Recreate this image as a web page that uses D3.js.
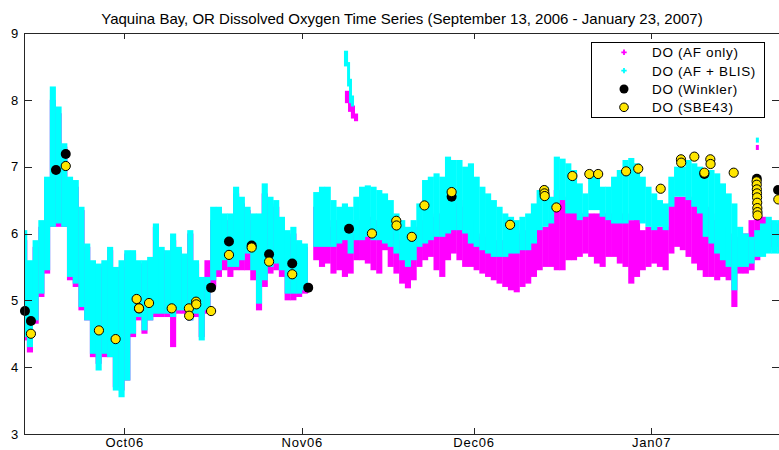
<!DOCTYPE html>
<html>
<head>
<meta charset="utf-8">
<style>
  body { margin: 0; background: #fff; }
  svg { display: block; font-family: "Liberation Sans", Arial, sans-serif; }
  .axis path, .axis line { stroke: #262626; stroke-width: 1; shape-rendering: crispEdges; }
  .axis text { font-size: 13px; letter-spacing: 0.8px; fill: #000; }
  .title { font-size: 15px; }
  .legend text { font-size: 13.5px; letter-spacing: 0.65px; }
</style>
</head>
<body>
<svg width="779" height="450"></svg>
<script src="https://cdn.jsdelivr.net/npm/d3@7"></script>
<script>
// ---- data (daily envelopes of the half-hourly sonde records, Sep 13 2006 .. Jan 23 2007) ----
var bandStartDay = "2006-09-13 00:00";

// DO (AF + BLIS), cyan
var blisLo = [4.45, 4.3, 4.7, 5.1, 5.45, 6.1, 6.15, 6.1, 5.35, 5.25,      // Sep 13-22
              4.9, 4.7, 4.2, 3.95, 4.2, 4.15, 3.65, 3.55, 3.8, 4.5,        // Sep 23-Oct 2
              4.75, 4.55, 4.7, 4.8, 4.8, 4.8, 4.75, 4.85, 4.85, 4.7,       // Oct 3-12
              4.8, 4.4, 4.85, 5.3, 5.45, 5.6, 5.5, 5.5, 5.6, 5.7,          // Oct 13-22
              5.45, 4.95, 5.3, 5.5, 5.55, 5.45, 5.1, 5.1, 5.1, 5.15,       // Oct 23-Nov 1
              null, 5.8, 5.8, 5.8, 5.8, 5.85, 5.9, 5.7, 5.9, 5.9,          // Nov 2-11
              5.95, 5.9, 5.9, 5.85, 5.8, 5.7, 5.6, 5.5, 5.6, 5.8,          // Nov 12-21
              5.85, 5.9, 5.95, 5.95, 6.0, 6.05, 6.05, 6.0, 5.85, 5.8,      // Nov 22-Dec 1
              5.75, 5.7, 5.65, 5.65, 5.65, 5.7, 5.7, 5.75, 5.75, 5.85,     // Dec 2-11
              6.05, 6.1, 6.15, 6.45, 6.5, 6.3, 6.3, 6.2, 6.25, 6.35,       // Dec 12-21
              6.35, 6.25, 6.2, 6.15, 6.15, 6.15, 6.2, 6.2, 6.15, 6.1,      // Dec 22-31
              6.05, 6.1, 6.05, 6.4, 6.55, 6.55, 6.5, 6.4, 6.3, 5.95,       // Jan 1-10
              5.85, 5.7, 5.6, 5.5, 5.15, 5.5, 5.5, 5.55, 5.65, 5.65,       // Jan 11-20
              5.7, 5.7, 5.7];                                              // Jan 21-23
var blisHi = [6.05, 5.6, 5.9, 6.2, 6.85, 8.2, 7.9, 7.35, 6.85, 6.8,
              6.4, 5.85, 5.6, 5.55, 5.6, 5.8, 5.5, 5.6, 5.75, 5.75,
              5.6, 5.6, 5.65, 6.15, 5.8, 5.75, 6.0, 5.8, 5.7, 6.05,
              5.6, 5.35, 5.35, 6.4, 6.4, 6.3, 6.3, 6.7, 6.55, 6.4,
              6.3, 6.3, 6.75, 6.55, 6.5, 6.25, 6.05, 6.1, 5.9, 5.85,
              null, 6.62, 6.7, 6.7, 6.5, 6.4, 6.45, 6.4, 6.55, 6.7,
              6.72, 6.7, 6.65, 6.6, 6.5, 6.3, 6.2, 6.1, 6.2, 6.45,
              6.8, 6.85, 6.9, 6.85, 7.15, 7.1, 7.1, 7.0, 7.05, 6.85,
              6.7, 6.6, 6.5, 6.4, 6.3, 6.25, 6.2, 6.25, 6.3, 6.45,
              6.65, 6.7, 6.55, 7.15, 7.12, 7.05, 6.95, 6.75, 6.6, 6.9,
              6.85, 6.7, 6.7, 6.85, 6.95, 7.1, 7.13, 7.05, 6.85, 6.7,
              6.6, 6.5, 6.45, 6.85, 7.0, 7.0, 7.1, 7.05, 7.0, 6.95,
              6.95, 6.9, 6.75, 6.6, 6.45, 6.1, 6.0, 5.95, 6.05, 6.15,
              6.25, 6.2, 6.2];

// DO (AF only), magenta
var afLo = [4.4, 4.22, 4.65, 5.05, 5.4, 6.1, 6.1, 6.1, 5.3, 5.2,
            4.85, 4.7, 4.15, 4.05, 4.15, 4.15, 3.7, 3.65, 3.8, 4.45,
            4.7, 4.5, 4.7, 4.75, 4.75, 4.75, 4.3, 4.8, 4.8, 4.7,
            4.75, 4.45, 4.8, 5.2, 5.35, 5.45, 5.35, 5.45, 5.45, 5.45,
            5.3, 4.85, 5.2, 5.4, 5.45, 5.35, 5.0, 5.0, 5.05, 5.1,
            null, 5.6, 5.5, 5.55, 5.4, 5.45, 5.35, 5.4, 5.6, 5.6,
            5.55, 5.45, 5.4, 5.75, 5.5, 5.4, 5.25, 5.18, 5.3, 5.5,
            5.6, 5.65, 5.45, 5.35, 5.6, 5.7, 5.6, 5.5, 5.5, 5.45,
            5.4, 5.35, 5.3, 5.25, 5.2, 5.15, 5.12, 5.2, 5.25, 5.35,
            5.45, 5.5, 5.5, 5.45, 5.45, 5.6, 5.6, 5.65, 5.7, 5.65,
            5.55, 5.5, 5.65, 5.65, 5.55, 5.5, 5.25, 5.35, 5.45, 5.5,
            5.55, 5.5, 5.45, 5.7, 5.8, 5.75, 5.65, 5.55, 5.45, 5.35,
            5.35, 5.3, 5.35, 5.3, 4.9, 5.4, 5.4, 5.45, 5.6, 5.85,
            5.8, 5.75, 5.8];
var afHi = [5.9, 5.5, 5.8, 6.1, 6.8, 8.0, 7.8, 7.3, 6.75, 6.7,
            6.35, 5.8, 5.55, 5.5, 5.55, 5.75, 5.45, 5.5, 5.7, 5.7,
            5.55, 5.55, 5.6, 6.1, 5.75, 5.7, 5.9, 5.75, 5.65, 6.0,
            5.55, 5.3, 5.6, 6.2, 6.3, 6.2, 6.2, 6.6, 6.45, 6.35,
            6.2, 6.2, 6.6, 6.45, 6.4, 6.2, 5.95, 6.0, 5.85, 5.8,
            null, 6.4, 6.2, 6.1, 6.2, 6.2, 6.2, 6.1, 6.2, 6.2,
            6.25, 6.2, 6.2, 6.15, 6.1, 6.0, 5.9, 5.8, 5.9, 6.1,
            6.2, 6.25, 6.3, 6.3, 6.4, 6.45, 6.5, 6.4, 6.2, 5.95,
            6.0, 5.95, 5.9, 5.9, 5.9, 5.95, 6.0, 6.05, 6.05, 6.1,
            6.1, 6.1, 6.2, 6.65, 6.55, 6.45, 6.35, 6.3, 6.3, 6.3,
            6.3, 6.3, 6.3, 6.3, 6.3, 6.3, 6.2, 6.25, 6.05, 6.1,
            6.1, 6.1, 6.1, 6.45, 6.55, 6.55, 6.55, 6.5, 6.4, 6.4,
            6.3, 6.2, 6.1, 6.0, 5.9, 5.95, 6.0, 6.2, 6.25, 6.25,
            6.2, 6.15, 6.15];

// short excursions outside the daily envelopes: [from, to, low, high]
var blisExtra = [["2006-11-08 13:00", "2006-11-09 02:00", 8.5, 8.72],
                 ["2006-11-09 02:00", "2006-11-09 10:00", 8.2, 8.55],
                 ["2006-11-09 10:00", "2006-11-09 18:00", 7.95, 8.3],
                 ["2006-11-09 18:00", "2006-11-10 03:00", 7.9, 8.05],
                 ["2007-01-19 11:00", "2007-01-19 13:00", 7.36, 7.42]];
var afExtra = [["2006-11-08 17:00", "2006-11-09 06:00", 7.95, 8.12],
               ["2006-11-09 06:00", "2006-11-09 18:00", 7.82, 8.0],
               ["2006-11-09 18:00", "2006-11-10 07:00", 7.72, 7.9],
               ["2006-11-10 07:00", "2006-11-10 20:00", 7.68, 7.78],
               ["2007-01-19 11:00", "2007-01-19 13:00", 7.25, 7.31]];

// DO (Winkler) bottle samples
var winklerTime = ["2006-09-13 16:00", "2006-09-14 17:00", "2006-09-19 02:00", "2006-09-20 19:00",
                   "2006-10-03 14:00", "2006-10-16 04:00", "2006-10-19 07:00", "2006-10-23 06:00",
                   "2006-10-26 07:00", "2006-10-30 08:00", "2006-11-02 03:00", "2006-11-09 06:00",
                   "2006-11-27 04:00", "2007-01-10 07:00", "2007-01-19 11:00", "2007-01-23 04:00"];
var winklerDO = [4.84, 4.69, 6.95, 7.19, 4.88, 5.19, 5.88, 5.82, 5.69, 5.55, 5.19, 6.07, 6.55, 6.89, 6.82, 6.65];

// DO (SBE43) CTD casts
var sbeTime = ["2006-09-14 17:00", "2006-09-20 19:00", "2006-09-26 14:00", "2006-09-29 12:00",
               "2006-10-03 04:00", "2006-10-03 14:00", "2006-10-05 08:00", "2006-10-09 07:00",
               "2006-10-12 07:00", "2006-10-12 08:00", "2006-10-13 13:00", "2006-10-13 14:00",
               "2006-10-16 04:00", "2006-10-19 07:00", "2006-10-23 06:00", "2006-10-26 07:00",
               "2006-10-30 08:00", "2006-11-13 06:00", "2006-11-17 12:00", "2006-11-17 13:00",
               "2006-11-20 05:00", "2006-11-22 10:00", "2006-11-27 04:00", "2006-12-07 09:00",
               "2006-12-13 08:00", "2006-12-13 09:00", "2006-12-13 10:00", "2006-12-15 11:00",
               "2006-12-18 06:00", "2006-12-21 05:00", "2006-12-22 18:00", "2006-12-27 15:00",
               "2006-12-29 18:00", "2007-01-02 16:00", "2007-01-06 05:00", "2007-01-06 06:00",
               "2007-01-08 13:00", "2007-01-10 07:00", "2007-01-11 08:00", "2007-01-11 09:00",
               "2007-01-15 10:00", "2007-01-19 10:00", "2007-01-19 10:30", "2007-01-19 11:00",
               "2007-01-19 11:30", "2007-01-19 12:00", "2007-01-19 12:30", "2007-01-19 13:00",
               "2007-01-19 13:30", "2007-01-19 14:00", "2007-01-23 05:00"];
var sbeDO = [4.50, 7.01, 4.55, 4.42, 5.02, 4.88, 4.96, 4.88, 4.88, 4.77, 4.98, 4.94,
             4.84, 5.68, 5.79, 5.58, 5.39, 6.00, 6.19, 6.12, 5.95, 6.42, 6.62, 6.13,
             6.65, 6.60, 6.56, 6.39, 6.86, 6.89, 6.89, 6.93, 6.97, 6.67, 7.11, 7.06,
             7.15, 6.91, 7.11, 7.04, 6.91, 6.78, 6.73, 6.66, 6.60, 6.54, 6.46, 6.38,
             6.32, 6.27, 6.51];

var xDomain = ["2006-09-13 12:00", "2007-01-23 12:00"];
var xTicks = ["2006-10-01 00:00", "2006-11-01 00:00", "2006-12-01 00:00", "2007-01-01 00:00"];
var yTicks = [3, 4, 5, 6, 7, 8, 9];
var legendLabels = ["DO (AF only)", "DO (AF + BLIS)", "DO (Winkler)", "DO (SBE43)"];

// ---- chart ----
(function() {
    var parse = d3.timeParse("%Y-%m-%d %H:%M");
    var svg = d3.select("svg");
    var mLeft = 24, mRight = 780, mTop = 33, mBottom = 434;

    var x = d3.scaleTime().domain(xDomain.map(parse)).range([mLeft, mRight]);
    var y = d3.scaleLinear().domain([3, 9]).range([mBottom, mTop]);

    svg.append("defs").append("clipPath").attr("id", "clip")
        .append("rect").attr("x", mLeft).attr("y", mTop)
        .attr("width", mRight - mLeft).attr("height", mBottom - mTop);

    var plot = svg.append("g").attr("clip-path", "url(#clip)");
    var day0 = parse(bandStartDay);

    function band(lo, hi, color) {
        var rows = lo.map(function(v, i) { return {i: i, lo: v, hi: hi[i]}; })
            .filter(function(d) { return d.lo != null; });
        plot.append("g").selectAll("rect")
            .data(rows)
            .join("rect")
            .attr("x", function(d) { return x(d3.timeDay.offset(day0, d.i)); })
            .attr("width", function(d) {
                return x(d3.timeDay.offset(day0, d.i + 1)) - x(d3.timeDay.offset(day0, d.i)) + 0.4;
            })
            .attr("y", function(d) { return y(d.hi); })
            .attr("height", function(d) { return y(d.lo) - y(d.hi); })
            .attr("fill", color);
    }

    function extra(rows, color) {
        plot.append("g").selectAll("rect")
            .data(rows)
            .join("rect")
            .attr("x", function(d) { return x(parse(d[0])) - 1; })
            .attr("width", function(d) { return Math.max(3, x(parse(d[1])) - x(parse(d[0])) + 1); })
            .attr("y", function(d) { return y(d[3]) - 1; })
            .attr("height", function(d) { return Math.max(3, y(d[2]) - y(d[3]) + 1); })
            .attr("fill", color);
    }

    band(afLo, afHi, "#ff00ff");
    band(blisLo, blisHi, "#00ffff");
    extra(afExtra, "#ff00ff");
    extra(blisExtra, "#00ffff");

    svg.append("g").selectAll("circle")
        .data(winklerTime.map(function(t, i) { return [parse(t), winklerDO[i]]; }))
        .join("circle")
        .attr("cx", function(d) { return x(d[0]); })
        .attr("cy", function(d) { return y(d[1]); })
        .attr("r", 5)
        .attr("fill", "#000");

    svg.append("g").selectAll("circle")
        .data(sbeTime.map(function(t, i) { return [parse(t), sbeDO[i]]; }))
        .join("circle")
        .attr("cx", function(d) { return x(d[0]); })
        .attr("cy", function(d) { return y(d[1]); })
        .attr("r", 4.6)
        .attr("fill", "#ffe600")
        .attr("stroke", "#000")
        .attr("stroke-width", 1);

    // axes, MATLAB style box with inward ticks
    var xt = xTicks.map(parse);
    svg.append("g").attr("class", "axis").attr("transform", "translate(0," + mBottom + ")")
        .call(d3.axisBottom(x).tickValues(xt).tickFormat(d3.timeFormat("%b%y"))
            .tickSizeInner(-6).tickSizeOuter(0).tickPadding(4));
    svg.append("g").attr("class", "axis").attr("transform", "translate(0," + mTop + ")")
        .call(d3.axisTop(x).tickValues(xt).tickFormat("").tickSizeInner(-6).tickSizeOuter(0));
    svg.append("g").attr("class", "axis").attr("transform", "translate(" + mLeft + ",0)")
        .call(d3.axisLeft(y).tickValues(yTicks).tickFormat(d3.format("d"))
            .tickSizeInner(-8).tickSizeOuter(0).tickPadding(5));
    svg.append("g").attr("class", "axis").attr("transform", "translate(" + mRight + ",0)")
        .call(d3.axisRight(y).tickValues(yTicks).tickFormat("").tickSizeInner(-8).tickSizeOuter(0));

    svg.append("text").attr("class", "title")
        .attr("x", (mLeft + mRight) / 2).attr("y", 24)
        .attr("text-anchor", "middle")
        .text("Yaquina Bay, OR Dissolved Oxygen Time Series (September 13, 2006 - January 23, 2007)");

    // legend
    var lg = svg.append("g").attr("class", "legend");
    lg.append("rect").attr("x", 591.5).attr("y", 42.5).attr("width", 173).attr("height", 75)
        .attr("fill", "#fff").attr("stroke", "#000").attr("stroke-width", 1);
    var rowY = d3.scalePoint().domain(legendLabels).range([52.3, 107.3]);
    var items = lg.selectAll("g.item").data(legendLabels).join("g").attr("class", "item")
        .attr("transform", function(d) { return "translate(624," + rowY(d) + ")"; });
    items.append("text").attr("x", 28).attr("y", 5).text(function(d) { return d; });
    items.filter(function(d, i) { return i < 2; }).append("path")
        .attr("d", d3.symbol(d3.symbolCross).size(16))
        .attr("fill", function(d, i) { return i === 0 ? "#ff00ff" : "#00ffff"; });
    items.filter(function(d, i) { return i === 2; }).append("circle").attr("r", 4.5).attr("fill", "#000");
    items.filter(function(d, i) { return i === 3; }).append("circle").attr("r", 4.3)
        .attr("fill", "#ffe600").attr("stroke", "#000");
})();
</script>
</body>
</html>
